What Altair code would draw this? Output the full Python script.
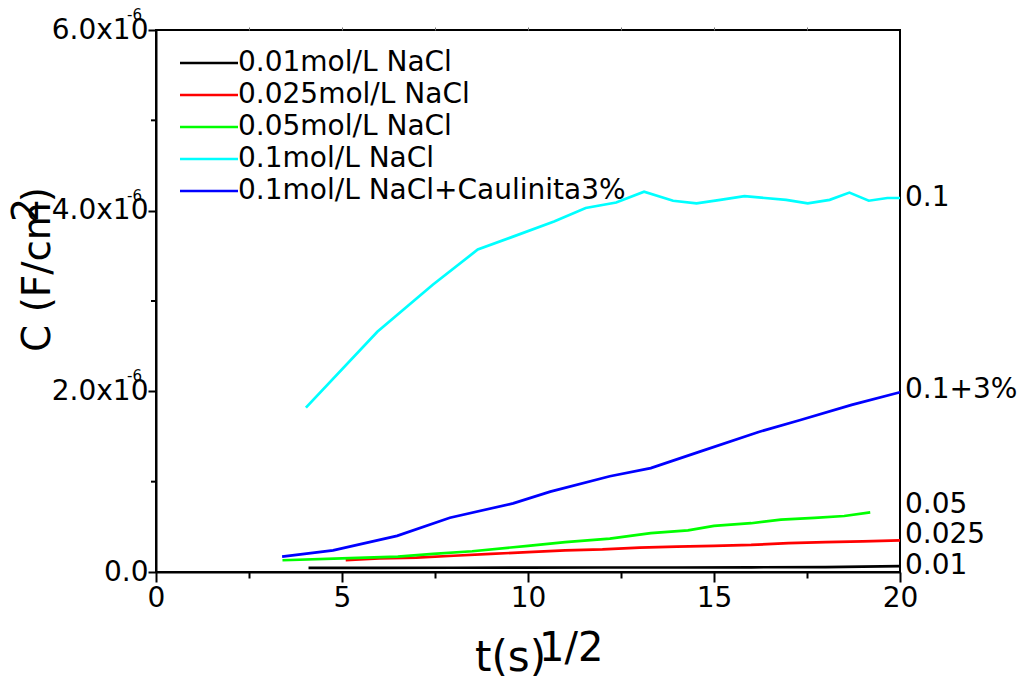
import altair as alt
import pandas as pd

# Series names, colours and right-hand end labels
series_names = [
    "0.01mol/L NaCl",
    "0.025mol/L NaCl",
    "0.05mol/L NaCl",
    "0.1mol/L NaCl",
    "0.1mol/L NaCl+Caulinita3%",
]
series_colors = ["#000000", "#ff0000", "#00ff00", "#00ffff", "#0000ff"]
end_labels = ["0.01", "0.025", "0.05", "0.1", "0.1+3%"]
end_label_c = [0.066, 0.41, 0.742, 4.14, 2.015]  # in units of 1e-6 F/cm2

# t^(1/2) (s^1/2) and C (1e-6 F/cm2) for each solution
t_001 = [4.1, 6.0, 8.0, 10.0, 12.0, 14.0, 16.0, 18.0, 20.0]
c_001 = [0.045, 0.045, 0.047, 0.048, 0.050, 0.050, 0.052, 0.055, 0.065]

t_0025 = [5.1, 6, 7, 8, 9, 10, 11, 12, 13, 14, 15, 16, 17, 18, 19, 20]
c_0025 = [0.13, 0.15, 0.16, 0.18, 0.20, 0.22, 0.24, 0.25, 0.27, 0.28, 0.29, 0.30,
          0.32, 0.33, 0.34, 0.35]

t_005 = [3.4, 5.0, 6.5, 7.45, 8.5, 10.0, 11.0, 12.2, 13.3, 14.3, 15.0, 16.0, 16.8,
         17.7, 18.5, 19.2]
c_005 = [0.13, 0.15, 0.17, 0.20, 0.23, 0.29, 0.33, 0.37, 0.43, 0.46, 0.51, 0.54,
         0.58, 0.60, 0.62, 0.66]

t_01 = [4.03, 5.95, 7.44, 8.65, 9.58, 10.70, 11.55, 12.37, 13.12, 13.90, 14.53,
        15.17, 15.82, 16.94, 17.52, 18.11, 18.64, 19.16, 19.66, 20.0]
c_01 = [1.82, 2.66, 3.18, 3.57, 3.71, 3.88, 4.03, 4.09, 4.21, 4.11, 4.08, 4.12,
        4.16, 4.12, 4.08, 4.12, 4.20, 4.11, 4.14, 4.14]

t_01k = [3.39, 4.76, 6.48, 7.9, 9.6, 10.6, 12.2, 13.3, 14.6, 16.2, 17.3, 18.7, 20.0]
c_01k = [0.17, 0.24, 0.40, 0.60, 0.76, 0.89, 1.06, 1.15, 1.33, 1.55, 1.68, 1.85, 1.99]

x_ticks = [0, 2.5, 5, 7.5, 10, 12.5, 15, 17.5, 20]
x_top_ticks = [2.5, 5, 7.5, 10, 12.5, 15, 17.5]
y_major = [0, 2, 4, 6]
y_minor = [1, 3, 5]
y_exp_ticks = [2, 4, 6]

FONT = "DejaVu Sans"
W, H = 744, 542

rows = []
for name, ts, cs in zip(
    series_names,
    [t_001, t_0025, t_005, t_01, t_01k],
    [c_001, c_0025, c_005, c_01, c_01k],
):
    for t, c in zip(ts, cs):
        rows.append({"series": name, "t": t, "c": c})
df = pd.DataFrame(rows)

x_scale = alt.Scale(domain=[0, 20], nice=False, zero=False)
y_scale = alt.Scale(domain=[0, 6], nice=False, zero=False)

x_axis = alt.Axis(
    orient="bottom",
    values=x_ticks,
    format="d",
    labelExpr="datum.value % 5 === 0 ? datum.label : ''",
    title=None,
    grid=False,
    domainColor="black",
    domainWidth=2,
    tickColor="black",
    tickWidth=2,
    tickSize={"condition": {"test": "datum.value % 5 === 0", "value": 10}, "value": 6},
    labelFont=FONT,
    labelFontSize=28,
    labelColor="black",
    labelPadding=2,
    labelFlush=False,
    labelOverlap=False,
)

# Shared by every layer that places something on the C scale
y_axis = alt.Axis(
    orient="left",
    values=y_major,
    labelExpr="datum.value === 0 ? '0.0' : datum.label + 'x10'",
    format=".1f",
    title=None,
    grid=False,
    domainColor="black",
    domainWidth=2,
    tickColor="black",
    tickWidth=2,
    tickSize=8,
    labelFont=FONT,
    labelFontSize=28,
    labelColor="black",
    labelPadding=0,
    labelFlush=False,
    labelOverlap=False,
)

lines = alt.Chart(df).mark_line(strokeWidth=2.7).encode(
    x=alt.X("t:Q", scale=x_scale, axis=x_axis),
    y=alt.Y("c:Q", scale=y_scale, axis=y_axis),
    color=alt.Color(
        "series:N",
        scale=alt.Scale(domain=series_names, range=series_colors),
        legend=None,
    ),
)

# Right-hand labels naming each curve; this layer also carries the small top ticks
end_df = pd.DataFrame({"t": [20.0] * 5, "c": end_label_c, "label": end_labels})
end_text = alt.Chart(end_df).mark_text(
    align="left", baseline="middle", dx=5, font=FONT, fontSize=28, color="black"
).encode(
    x=alt.X(
        "t:Q",
        scale=x_scale,
        axis=alt.Axis(
            orient="top",
            values=x_top_ticks,
            labels=False,
            domain=False,
            grid=False,
            title=None,
            tickSize=3,
            tickWidth=1,
            tickColor="#777777",
        ),
    ),
    y=alt.Y("c:Q", scale=y_scale, axis=y_axis),
    text="label:N",
)

# Minor ticks on the left axis
minor_df = pd.DataFrame({"c": y_minor})
minor_ticks = alt.Chart(minor_df).mark_rule(color="black", strokeWidth=2).encode(
    x=alt.value(-5),
    x2=alt.value(0),
    y=alt.Y("c:Q", scale=y_scale, axis=y_axis),
)

# Exponent of the y tick labels
exp_df = pd.DataFrame({"c": y_exp_ticks, "e": ["-6"] * len(y_exp_ticks)})
exp_text = alt.Chart(exp_df).mark_text(
    align="left", baseline="alphabetic", dy=-10, font=FONT, fontSize=15, color="black"
).encode(
    x=alt.value(-29),
    y=alt.Y("c:Q", scale=y_scale, axis=y_axis),
    text="e:N",
)


def label(text, x, y, size, angle=0):
    mark = dict(align="left", baseline="alphabetic", font=FONT, fontSize=size, color="black")
    if angle:
        mark["angle"] = angle
    return alt.Chart(pd.DataFrame({"s": [text]})).mark_text(**mark).encode(
        x=alt.value(x), y=alt.value(y), text="s:N"
    )


titles = [
    label("C (F/cm)", -106, 322, 39, 270),
    label("2", -118, 192, 38, 270),
    label("t(s)", 319, 641, 42),
    label("1/2", 383, 631, 40),
]

# Legend: short line sample followed by its name
legend_layers = []
for i, (name, col) in enumerate(zip(series_names, series_colors)):
    ly = 33 + 32 * i
    legend_layers.append(
        alt.Chart(pd.DataFrame({"s": [name]})).mark_rule(color=col, strokeWidth=2.6).encode(
            x=alt.value(24), x2=alt.value(82), y=alt.value(ly)
        )
    )
    legend_layers.append(
        alt.Chart(pd.DataFrame({"s": [name]})).mark_text(
            align="left", baseline="middle", font=FONT, fontSize=28, color="black"
        ).encode(x=alt.value(82), y=alt.value(ly), text="s:N")
    )

chart = alt.layer(
    lines, end_text, minor_ticks, exp_text, *titles, *legend_layers
).properties(
    width=W,
    height=H,
    padding={"left": 156, "top": 30, "right": 124, "bottom": 110},
    autosize=alt.AutoSizeParams(type="none"),
    background="white",
).configure_view(stroke="black", strokeWidth=2)

chart.save("out.html", embed_options={"renderer": "svg", "actions": False})
